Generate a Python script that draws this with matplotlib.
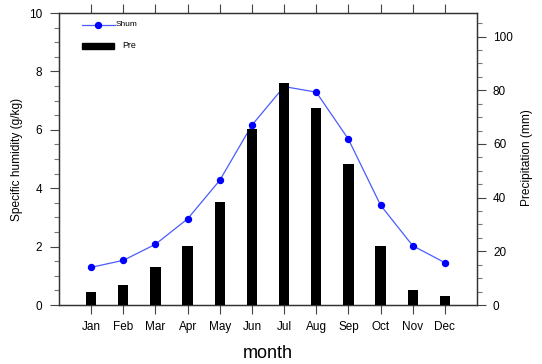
import matplotlib
matplotlib.use("Agg")
import matplotlib.pyplot as plt
from matplotlib.ticker import MultipleLocator
from matplotlib.lines import Line2D
from matplotlib.patches import Rectangle

months = ["Jan", "Feb", "Mar", "Apr", "May", "Jun", "Jul", "Aug", "Sep", "Oct", "Nov", "Dec"]
shum = [1.29, 1.53, 2.08, 2.95, 4.27, 6.16, 7.48, 7.29, 5.68, 3.42, 2.03, 1.45]
pre = [4.8, 7.3, 14.3, 22.1, 38.3, 65.5, 82.9, 73.5, 52.6, 21.9, 5.5, 3.2]

plt.rcParams['font.family'] = ['Liberation Sans', 'DejaVu Sans']

W, H = 542, 364
fig = plt.figure(figsize=(W/100, H/100), dpi=100)
ax = fig.add_axes([59/W, 1-305/H, (477-59)/W, (305-13)/H])
x = list(range(1, 13))

ax.plot(x, shum, color='#4a5cff', lw=0.9, marker='o', markersize=4.3,
        markerfacecolor='#0000ff', markeredgecolor='#0000ff', zorder=2)
ax.set_xlim(0, 13)
ax.set_ylim(0, 10)
ax.yaxis.set_major_locator(MultipleLocator(2))
ax.yaxis.set_minor_locator(MultipleLocator(0.5))
ax.set_xticks(x)
ax.set_xticklabels(months)
ax.tick_params(axis='x', which='both', direction='out', top=True, length=6.5, width=0.8,
               color='#444444', labelsize=8.5, pad=5)
ax.tick_params(axis='y', which='major', direction='out', length=6.5, width=0.8,
               color='#444444', labelsize=8.5, pad=5.5)
ax.tick_params(axis='y', which='minor', direction='out', length=3.5, width=0.8, color='#777777')
ax.set_ylabel("Specific humidity (g/kg)", fontsize=8.6)
ax.yaxis.set_label_coords(23.5/W, 1-159/H, transform=fig.transFigure)
ax.set_xlabel("month", fontsize=13)
ax.xaxis.set_label_coords(268/W, 1-345/H, transform=fig.transFigure)

ax2 = ax.twinx()
ax2.bar(x, pre, width=0.32, color='black', zorder=3)
ax2.set_ylim(0, 108.8)
ax2.yaxis.set_major_locator(MultipleLocator(20))
ax2.yaxis.set_minor_locator(MultipleLocator(5))
ax2.tick_params(axis='y', which='major', direction='out', length=6.5, width=0.8,
                color='#444444', labelsize=8.5, pad=5)
ax2.tick_params(axis='y', which='minor', direction='out', length=3.5, width=0.8, color='#777777')
ax2.set_ylabel("Precipitation (mm)", fontsize=8.6)
ax2.yaxis.set_label_coords(521/W, 1-158/H, transform=fig.transFigure)

for a in (ax, ax2):
    for s in a.spines.values():
        s.set_color('#333333')
        s.set_linewidth(0.9)

# legend (manual, NCL-style)
ax2.add_line(Line2D([82/W, 115/W], [1-24.7/H, 1-24.7/H], transform=fig.transFigure,
                    color='#4a5cff', lw=0.9))
ax2.add_line(Line2D([98/W], [1-24.7/H], transform=fig.transFigure, marker='o',
                    markersize=4.3, color='#0000ff', lw=0))
fig.text(115.5/W, 1-24.7/H, "Shum", fontsize=6, va='center', ha='left')
fig.patches.append(Rectangle((82/W, 1-48.7/H), 32/W, 6/H, transform=fig.transFigure,
                             color='black', figure=fig))
fig.text(122.5/W, 1-45.7/H, "Pre", fontsize=6.4, va='center', ha='left')

fig.savefig("out.png", dpi=100)
